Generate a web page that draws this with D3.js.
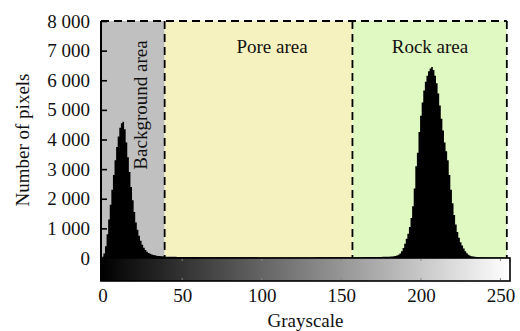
<!DOCTYPE html>
<html>
<head>
<meta charset="utf-8">
<script src="https://cdn.jsdelivr.net/npm/d3@7"></script>
<style>
  html, body { margin: 0; padding: 0; background: #fff; }
  svg { display: block; }
  text { font-family: "Liberation Serif", "Times New Roman", serif; fill: #111; }
</style>
</head>
<body>
<svg id="chart" width="520" height="331"></svg>
<script>
// Pixel count per grey level 0..255 (ten levels per line)
const pixelCounts = [
  50,150,400,800,1300,1800,2300,2800,3300,3750,
  4100,4400,4550,4600,4350,3900,3400,2900,2400,1950,
  1550,1200,950,750,580,450,350,270,210,170,
  140,120,100,90,80,70,65,60,55,50,
  45,44,42,41,40,39,38,37,36,35,
  35,34,33,33,32,32,31,31,30,30,
  30,29,29,29,28,28,28,27,27,27,
  27,26,26,26,26,25,25,25,25,25,
  24,24,24,24,24,23,23,23,23,23,
  23,22,22,22,22,22,22,22,21,21,
  21,21,21,21,21,21,21,20,20,20,
  20,20,20,20,20,20,20,20,20,20,
  20,20,20,20,20,20,20,20,20,21,
  21,21,21,21,22,22,22,22,23,23,
  23,24,24,24,25,25,25,25,26,26,
  26,26,26,27,27,27,27,27,28,28,
  28,28,28,29,29,30,30,31,31,32,
  32,33,34,35,36,37,38,40,42,43,
  45,48,52,58,68,85,110,150,230,340,
  480,650,820,1050,1350,1750,2350,3100,3550,4250,
  4800,5250,5650,5950,6150,6300,6400,6450,6350,6150,
  5900,5550,5150,4700,4300,3900,3600,3300,2800,2300,
  1850,1450,1130,880,680,530,420,320,230,160,
  110,80,60,48,40,35,30,27,25,23,
  21,20,19,18,17,16,15,15,14,14,
  13,13,12,12,11,10
];

// Threshold regions along the grey scale
const regionNames  = ["Background area", "Pore area", "Rock area"];
const regionStart  = [-1, 39, 157];
const regionEnd    = [39, 157, 254];
const regionColors = ["#c0c0c0", "#f6f2c0", "#e0f8c2"];

const xTickValues = [0, 50, 100, 150, 200, 250];
const xTickLabels = ["0", "50", "100", "150", "200", "250"];
const yTickValues = [0, 1000, 2000, 3000, 4000, 5000, 6000, 7000, 8000];
const yTickLabels = ["0", "1 000", "2 000", "3 000", "4 000", "5 000", "6 000", "7 000", "8 000"];

const svg = d3.select("#chart");
const plotLeft = 101, plotRight = 510, plotTop = 21, zeroY = 258, barBottom = 281;

const x = d3.scaleLinear().domain([-1, 256]).range([plotLeft, plotRight]);
const y = d3.scaleLinear().domain([0, 8000]).range([zeroY, plotTop]);

// Coloured threshold regions
svg.append("g").selectAll("rect")
  .data(regionNames)
  .join("rect")
  .attr("x", (d, i) => x(regionStart[i]))
  .attr("y", y(8000))
  .attr("width", (d, i) => x(regionEnd[i]) - x(regionStart[i]))
  .attr("height", y(0) - y(8000))
  .attr("fill", (d, i) => regionColors[i]);

// Histogram as a stepped area
const levels = d3.range(pixelCounts.length);
const area = d3.area()
  .x(d => x(d))
  .y0(y(0))
  .y1(d => y(pixelCounts[d]))
  .curve(d3.curveStep);
svg.append("path")
  .datum(levels)
  .attr("d", area)
  .attr("fill", "#000");

// Dashed region borders
const dash = "8,5";
const borders = svg.append("g").attr("stroke", "#000").attr("stroke-width", 1.8)
  .attr("stroke-dasharray", dash).attr("fill", "none");
borders.append("line")
  .attr("x1", x(-1)).attr("x2", x(regionEnd[2]))
  .attr("y1", y(8000)).attr("y2", y(8000));
borders.selectAll("line.v")
  .data(regionEnd)
  .join("line")
  .attr("class", "v")
  .attr("x1", d => x(d)).attr("x2", d => x(d))
  .attr("y1", y(8000)).attr("y2", y(0));

// Grey-level colour bar under the histogram
const grad = svg.append("defs").append("linearGradient")
  .attr("id", "greyRamp").attr("x1", "0%").attr("x2", "100%");
grad.append("stop").attr("offset", "0%").attr("stop-color", "#000");
grad.append("stop").attr("offset", "100%").attr("stop-color", "#fff");
svg.append("rect")
  .attr("x", plotLeft).attr("y", zeroY)
  .attr("width", plotRight - plotLeft).attr("height", barBottom - zeroY)
  .attr("fill", "url(#greyRamp)")
  .attr("stroke", "#000").attr("stroke-width", 1.6);

// Minor marks on the colour bar
const marks = svg.append("g").attr("stroke", "#888").attr("stroke-width", 1);
marks.selectAll("line.t").data(xTickValues.slice(1)).join("line").attr("class", "t")
  .attr("x1", d => x(d)).attr("x2", d => x(d))
  .attr("y1", zeroY + 1).attr("y2", zeroY + 3);
marks.selectAll("line.b").data(xTickValues.slice(1)).join("line").attr("class", "b")
  .attr("x1", d => x(d)).attr("x2", d => x(d))
  .attr("y1", barBottom - 3).attr("y2", barBottom - 1);

// Y axis
const yAxis = d3.axisLeft(y)
  .tickValues(yTickValues)
  .tickFormat((d, i) => yTickLabels[i])
  .tickSizeInner(-6)
  .tickSizeOuter(0)
  .tickPadding(11);
const gy = svg.append("g").attr("transform", `translate(${plotLeft},0)`).call(yAxis);
gy.select(".domain").remove();
gy.selectAll(".tick line").attr("stroke", "#000").attr("stroke-width", 1.6);
gy.selectAll("text").attr("font-size", 19).attr("font-family", "Liberation Serif").attr("fill", "#111");
svg.append("line")
  .attr("x1", plotLeft).attr("x2", plotLeft)
  .attr("y1", y(8000)).attr("y2", barBottom)
  .attr("stroke", "#000").attr("stroke-width", 2);

// X axis
const xAxis = d3.axisBottom(x)
  .tickValues(xTickValues)
  .tickFormat((d, i) => xTickLabels[i])
  .tickSize(0)
  .tickPadding(8);
const gx = svg.append("g").attr("transform", `translate(0,${barBottom})`).call(xAxis);
gx.select(".domain").remove();
gx.selectAll("text").attr("font-size", 19).attr("font-family", "Liberation Serif").attr("fill", "#111");

// Titles
svg.append("text")
  .attr("transform", "translate(29,140) rotate(-90)")
  .attr("text-anchor", "middle").attr("font-size", 19)
  .text("Number of pixels");
svg.append("text")
  .attr("x", (plotLeft + plotRight) / 2).attr("y", 327)
  .attr("text-anchor", "middle").attr("font-size", 19)
  .text("Grayscale");

// Region labels
svg.append("text")
  .attr("transform", "translate(147,105) rotate(-90)")
  .attr("text-anchor", "middle").attr("font-size", 19)
  .text(regionNames[0]);
svg.append("text")
  .attr("x", 272).attr("y", 53)
  .attr("text-anchor", "middle").attr("font-size", 19)
  .text(regionNames[1]);
svg.append("text")
  .attr("x", 430).attr("y", 53)
  .attr("text-anchor", "middle").attr("font-size", 19)
  .text(regionNames[2]);
</script>
</body>
</html>
